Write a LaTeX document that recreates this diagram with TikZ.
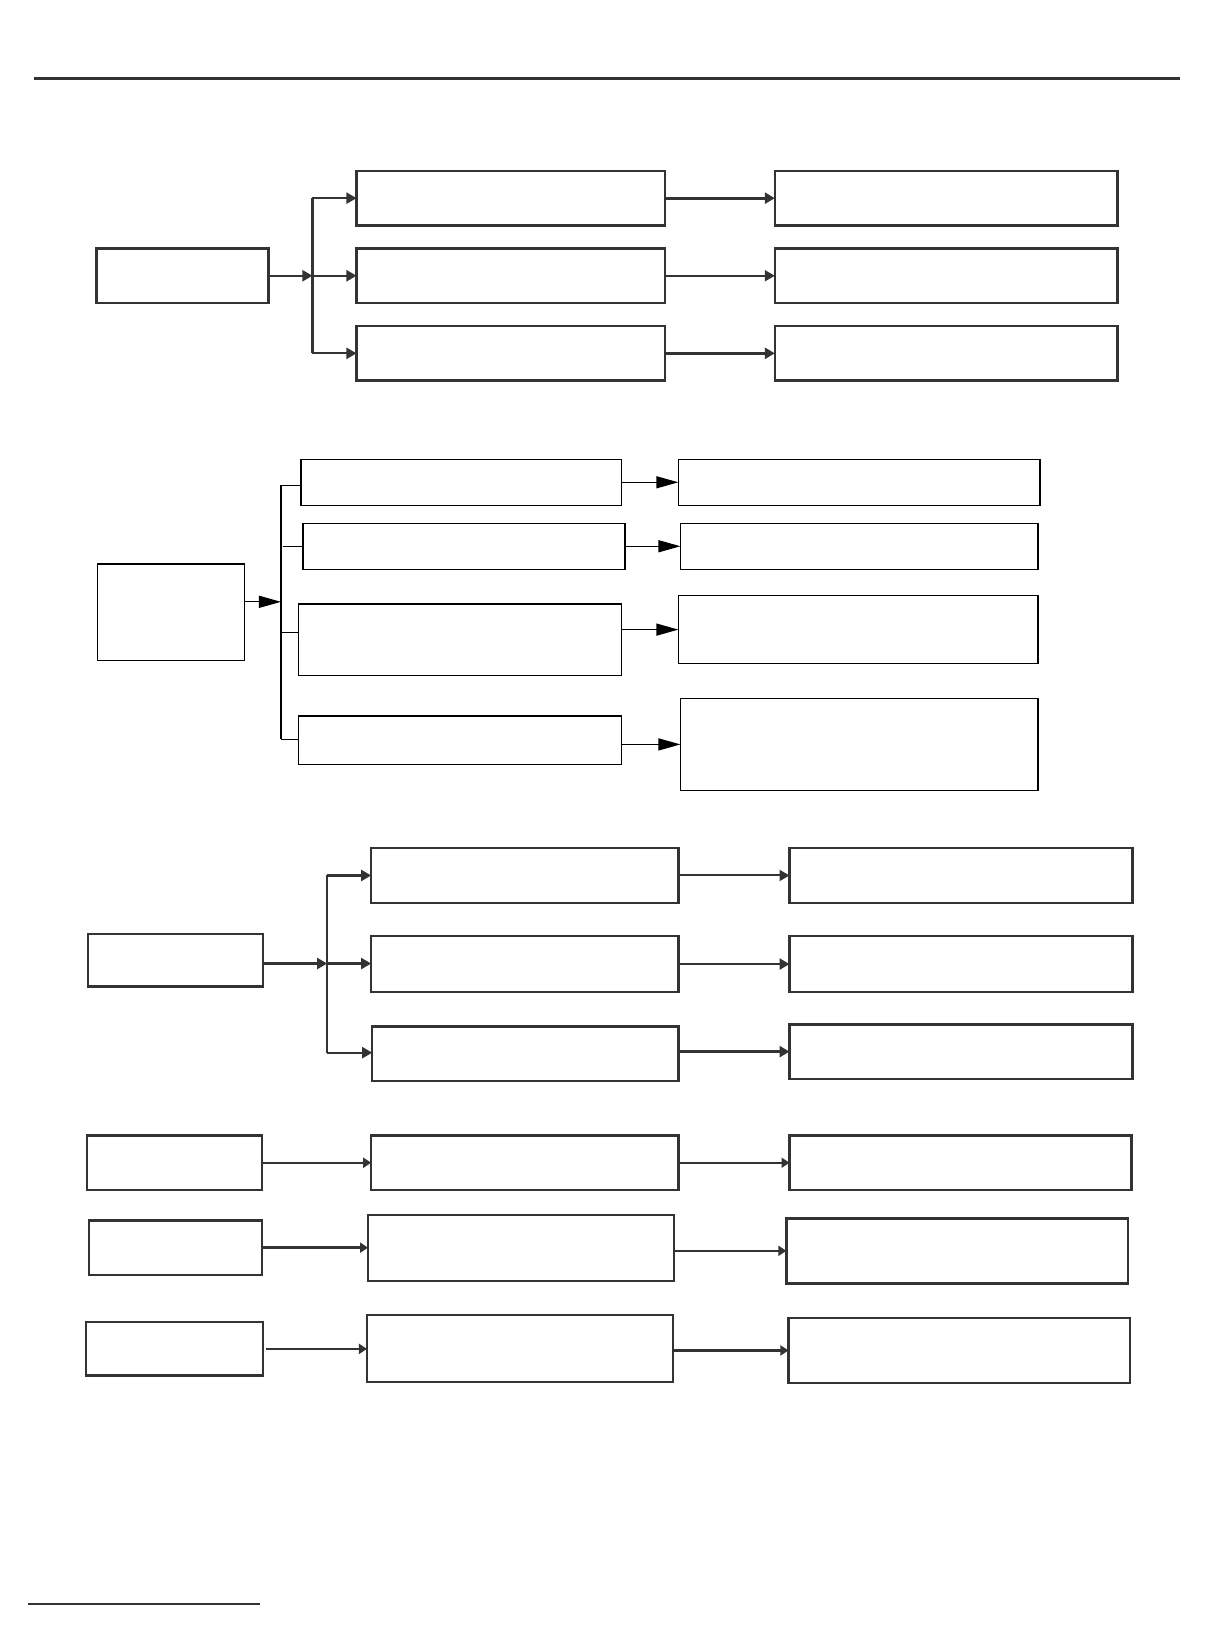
\documentclass[tikz,border=0pt]{standalone}
\usetikzlibrary{arrows.meta}
\definecolor{ink}{HTML}{333333}
\newcommand\mybox[6]{\node[#1, minimum width={(#5-#3)*1.0484pt}, minimum height={(#6-#4)*1.0484pt}] (#2) at ({(#3+#5)/2},{(#4+#6)/2}) {};}
\begin{document}
\begin{tikzpicture}[x=1.0484pt,y=-1.0484pt,
  thickbox/.style={draw=ink, line width=2.4pt, inner sep=0pt, outer sep=0pt, rectangle},
  thinbox/.style={draw=black, line width=1.3pt, inner sep=0pt, outer sep=0pt, rectangle},
  arrA/.style={draw=ink, line width=2.2pt, -{Triangle[length=10pt,width=11pt]}},
  lineA/.style={draw=ink, line width=2.2pt},
  arrB/.style={draw=black, line width=1.3pt, -{Triangle[length=22pt,width=12pt]}},
  lineB/.style={draw=black, line width=1.3pt},
  arrC/.style={draw=ink, line width=2.4pt, -{Triangle[length=8pt,width=10pt]}}]
\useasboundingbox (0,0) rectangle (1157,1568);
% rules
\coordinate (r1a) at (32,75); \coordinate (r1b) at (1125,75);
\draw[line width=3.2pt, draw=ink] (r1a) -- (r1b);
\coordinate (r2a) at (27,1530); \coordinate (r2b) at (248,1530);
\draw[line width=2.2pt, draw=ink] (r2a) -- (r2b);

% ---------- section 1
\mybox{thickbox}{L1}{92}{237}{256}{289}
\mybox{thickbox}{M1a}{340}{163}{634}{215}
\mybox{thickbox}{M1b}{340}{237}{634}{289}
\mybox{thickbox}{M1c}{340}{311}{634}{363}
\mybox{thickbox}{R1a}{739}{163}{1066}{215}
\mybox{thickbox}{R1b}{739}{237}{1066}{289}
\mybox{thickbox}{R1c}{739}{311}{1066}{363}
\coordinate (v1t) at (298,189);
\coordinate (v1m) at (298,263);
\coordinate (v1b) at (298,337);
\draw[lineA] (v1t) -- (v1b);
\draw[arrA] (L1.east) -- (v1m);
\draw[arrA] (v1t) -- (M1a.west);
\draw[arrA] (v1m) -- (M1b.west);
\draw[arrA] (v1b) -- (M1c.west);
\draw[arrA, line width=2.8pt] (M1a.east) -- (R1a.west);
\draw[arrA, line width=1.8pt] (M1b.east) -- (R1b.west);
\draw[arrA, line width=2.8pt] (M1c.east) -- (R1c.west);

% ---------- section 2
\mybox{thinbox}{L2}{93}{538}{233}{630}
\mybox{thinbox}{M2a}{287}{438}{593}{482}
\mybox{thinbox}{M2b}{289}{499}{596}{543}
\mybox{thinbox}{M2c}{285}{576}{593}{644}
\mybox{thinbox}{M2d}{285}{683}{593}{729}
\mybox{thinbox}{R2a}{647}{438}{992}{482}
\mybox{thinbox}{R2b}{649}{499}{990}{543}
\mybox{thinbox}{R2c}{647}{568}{990}{633}
\mybox{thinbox}{R2d}{649}{666}{990}{754}
\coordinate (v2t) at (268,463);
\coordinate (v2j) at (268,574);
\coordinate (v2b) at (268,705);
\coordinate (v2s) at (270,521);
\draw[lineB] (v2t) -- (v2b);
\draw[arrB] (L2.east |- v2j) -- (v2j);
\draw[lineB] (v2t) -- (v2t -| M2a.west);
\draw[lineB] (v2s) -- (M2b.west);
\draw[lineB] (268,603) -- (268,603 -| M2c.west);
\draw[lineB] (v2b) -- (v2b -| M2d.west);
\draw[arrB] (M2a.east) -- (R2a.west);
\draw[arrB] (M2b.east) -- (R2b.west);
\draw[arrB] (R2c.west -| M2c.east) -- (R2c.west);
\draw[arrB] (R2d.west -| M2d.east) -- (R2d.west);

% ---------- section 3
\mybox{thickbox}{L3}{84}{891}{251}{941}
\mybox{thickbox}{M3a}{354}{809}{647}{861}
\mybox{thickbox}{M3b}{354}{893}{647}{946}
\mybox{thickbox}{M3c}{355}{979}{647}{1031}
\mybox{thickbox}{R3a}{753}{809}{1080}{861}
\mybox{thickbox}{R3b}{753}{893}{1080}{946}
\mybox{thickbox}{R3c}{753}{977}{1080}{1029}
\coordinate (v3t) at (312,835);
\coordinate (v3m) at (312,919);
\coordinate (v3b) at (312,1004);
\draw[lineA] (v3t) -- (v3b);
\draw[arrA] (L3.east |- v3m) -- (v3m);
\draw[arrA] (v3t) -- (v3t -| M3a.west);
\draw[arrA] (v3m) -- (v3m -| M3b.west);
\draw[arrA] (v3b) -- (v3b -| M3c.west);
\draw[arrA, line width=2pt] (M3a.east) -- (R3a.west);
\draw[arrA, line width=2.8pt] (M3b.east) -- (R3b.west);
\draw[arrA, line width=2.8pt] (R3c.west -| M3c.east) -- (R3c.west);

% ---------- section 4
\mybox{thickbox}{L4a}{83}{1083}{250}{1135}
\mybox{thickbox}{M4a}{354}{1083}{647}{1135}
\mybox{thickbox}{R4a}{753}{1083}{1079}{1135}
\draw[arrC] (L4a.east) -- (M4a.west);
\draw[arrC] (M4a.east) -- (R4a.west);

\mybox{thickbox}{L4b}{85}{1164}{250}{1216}
\mybox{thickbox}{M4b}{351}{1159}{643}{1222}
\mybox{thickbox}{R4b}{750}{1162}{1076}{1224}
\draw[arrC] (L4b.east) -- (L4b.east -| M4b.west);
\draw[arrC] (R4b.west -| M4b.east) -- (R4b.west);

\mybox{thickbox}{L4c}{82}{1261}{251}{1312}
\mybox{thickbox}{M4c}{350}{1254}{642}{1318}
\mybox{thickbox}{R4c}{752}{1257}{1078}{1319}
\draw[arrC] (L4c.east) ++(3,0) coordinate (l4cs) (l4cs) -- (l4cs -| M4c.west);
\draw[arrC, line width=3.2pt] (R4c.west -| M4c.east) -- (R4c.west);
\end{tikzpicture}
\end{document}
